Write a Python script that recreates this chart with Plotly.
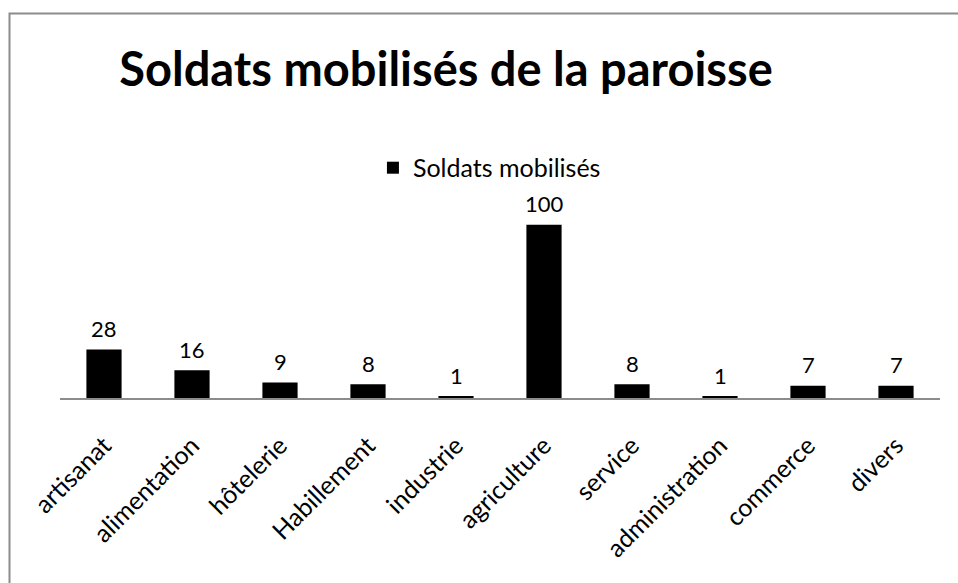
import plotly.graph_objects as go

categories = ["artisanat", "alimentation", "hôtelerie", "Habillement", "industrie",
              "agriculture", "service", "administration", "commerce", "divers"]
values = [28, 16, 9, 8, 1, 100, 8, 1, 7, 7]
series_name = "Soldats mobilisés"
title = "Soldats mobilisés de la paroisse"

FONT = "Lato, 'Open Sans', sans-serif"

fig = go.Figure()
fig.add_trace(go.Bar(
    x=categories, y=values, name=series_name,
    marker=dict(color="black", line=dict(width=0)),
    showlegend=True,
))

annotations = [
    dict(x=c, y=v, xref="x", yref="y", text=str(v), showarrow=False,
         yanchor="middle", yshift=21, font=dict(size=22, color="black", family=FONT))
    for c, v in zip(categories, values)
]

fig.update_layout(
    width=958, height=583,
    margin=dict(l=60, r=18, t=190, b=185),
    paper_bgcolor="white", plot_bgcolor="white",
    bargap=0.6,
    title=dict(text="<b>" + title + "</b>", x=446 / 958, xanchor="center",
               y=1 - 70 / 583, yanchor="middle",
               font=dict(size=47, color="black", family=FONT)),
    legend=dict(orientation="h", x=0.488, xanchor="center", y=1.106, yanchor="middle",
                font=dict(size=25, color="black", family=FONT),
                itemsizing="constant", itemwidth=30, bgcolor="rgba(0,0,0,0)"),
    font=dict(family=FONT, color="black"),
    xaxis=dict(showline=True, linecolor="#8c8c8c", linewidth=2, ticks="",
               tickangle=-45, tickfont=dict(size=25, color="black", family=FONT),
               ticklabelstandoff=21,
               showgrid=False, zeroline=False),
    yaxis=dict(range=[0, 120], visible=False, showgrid=False, zeroline=False),
    annotations=annotations,
    shapes=[dict(type="rect", xref="paper", yref="paper",
                 x0=(9.5 - 60) / 880, x1=1.2, y0=-2.0, y1=(398 - 13.5) / 208,
                 line=dict(color="#8c8c8c", width=2), fillcolor="rgba(0,0,0,0)",
                 layer="below")],
)

fig.write_html("out.html", config={"displayModeBar": False},
               post_script="document.body.style.margin='0';")
